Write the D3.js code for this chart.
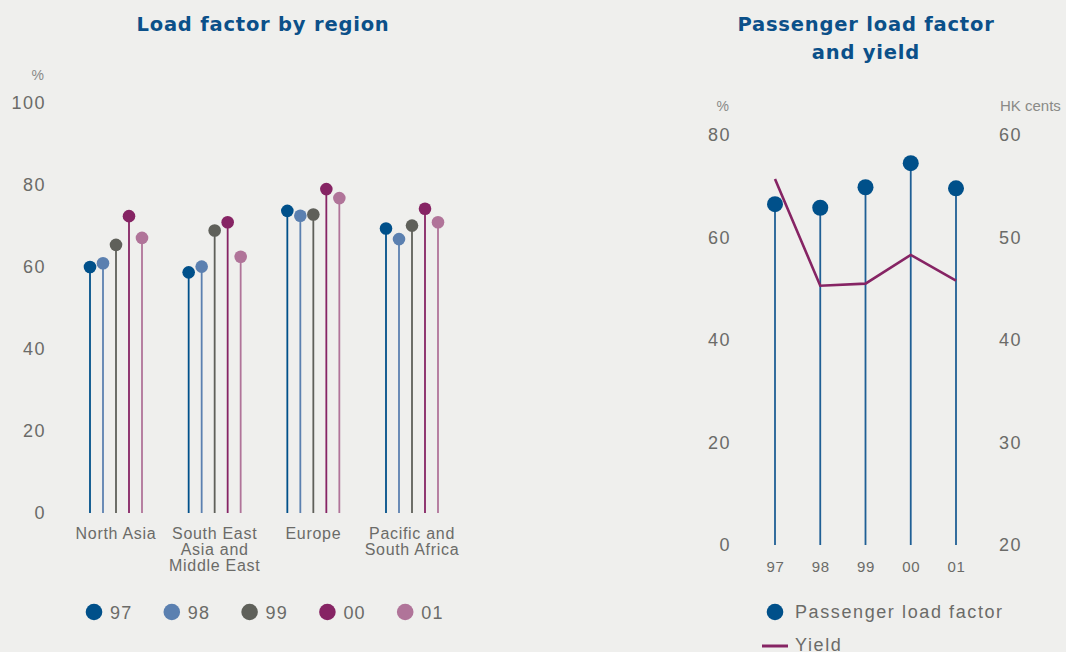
<!DOCTYPE html>
<html>
<head>
<meta charset="utf-8">
<script src="https://cdn.jsdelivr.net/npm/d3@7"></script>
<style>
  body { margin: 0; background: #efefed; }
  svg { display: block; font-family: "Liberation Sans", Arial, sans-serif; }
  .tick text { fill: #6b6b68; }
  .title { fill: #0b5089; font-family: "DejaVu Sans", sans-serif; font-weight: bold; font-size: 19.5px; letter-spacing: 0.8px; }
</style>
</head>
<body>
<div id="main"></div>
<script>
// data
const regions = ['North Asia', 'South East Asia and Middle East', 'Europe', 'Pacific and South Africa']
const regionLines = [['North Asia'], ['South East', 'Asia and', 'Middle East'], ['Europe'], ['Pacific and', 'South Africa']]
const years = ['97', '98', '99', '00', '01']
const yearColors = ['#00508a', '#5b80b0', '#5f605a', '#862464', '#b07499']
const loadByRegion = [
    [60.0, 60.9, 65.4, 72.4, 67.1],   // North Asia
    [58.7, 60.1, 68.9, 70.9, 62.5],   // SE Asia & Middle East
    [73.7, 72.5, 72.8, 79.0, 76.8],   // Europe
    [69.4, 66.8, 70.1, 74.2, 70.9]    // Pacific & South Africa
]
const leftTicks = [0, 20, 40, 60, 80, 100]

const paxLoad = [66.5, 65.8, 69.8, 74.5, 69.6]
const yieldCents = [55.7, 45.3, 45.5, 48.3, 45.8]
const pctTicks = [0, 20, 40, 60, 80]
const centTicks = [20, 30, 40, 50, 60]

const w = 1066, h = 652
const svg = d3.select('#main').append('svg').attr('width', w).attr('height', h)

const grey = '#6b6b68'

/// left chart: load factor by region ///
svg.append('text').attr('class', 'title')
    .attr('x', 263).attr('y', 31).attr('text-anchor', 'middle')
    .text('Load factor by region')

const yL = d3.scaleLinear().domain([0, 100]).range([513, 103])
const xGroup = d3.scalePoint().domain(regions).range([116, 412])
const xYear = d3.scalePoint().domain(years).range([-26, 26])

svg.append('text').attr('x', 44).attr('y', 80).attr('text-anchor', 'end')
    .attr('font-size', 14).attr('fill', '#8a8a87').text('%')

const axL = svg.append('g').attr('transform', 'translate(46,0)')
    .call(d3.axisLeft(yL).tickValues(leftTicks).tickSize(0).tickPadding(0))
axL.select('.domain').remove()
axL.selectAll('text').attr('font-size', 18).attr('letter-spacing', 1.5)
    .attr('font-family', '"Liberation Sans", Arial, sans-serif')

const groups = svg.selectAll('.region')
    .data(regions)
    .enter()
    .append('g')
    .attr('class', 'region')
    .attr('transform', d => 'translate(' + xGroup(d) + ',0)')

groups.each(function (r, gi) {
    const g = d3.select(this)
    const vals = loadByRegion[gi].map((v, i) => ({ year: years[i], v: v, c: yearColors[i] }))
    g.selectAll('line').data(vals).enter().append('line')
        .attr('x1', d => xYear(d.year)).attr('x2', d => xYear(d.year))
        .attr('y1', yL(0)).attr('y2', d => yL(d.v))
        .attr('stroke', d => d.c).attr('stroke-width', 1.8)
    g.selectAll('circle').data(vals).enter().append('circle')
        .attr('cx', d => xYear(d.year)).attr('cy', d => yL(d.v))
        .attr('r', 6.3).attr('fill', d => d.c)
    g.append('text').attr('text-anchor', 'middle').attr('font-size', 16)
        .attr('fill', grey).attr('letter-spacing', 0.7)
        .selectAll('tspan').data(regionLines[gi]).enter().append('tspan')
        .attr('x', 0).attr('y', (d, i) => 539 + i * 16).text(d => d)
})

// legend
const legL = svg.selectAll('.legL').data(years).enter().append('g')
    .attr('transform', (d, i) => 'translate(' + (94 + i * 77.8) + ',612)')
legL.append('circle').attr('r', 8.3).attr('fill', (d, i) => yearColors[i])
legL.append('text').attr('x', 16).attr('y', 6.5).attr('font-size', 18)
    .attr('fill', grey).attr('letter-spacing', 1.2).text(d => d)

/// right chart: passenger load factor and yield ///
const tR = svg.append('text').attr('class', 'title').attr('text-anchor', 'middle')
tR.append('tspan').attr('x', 866).attr('y', 31).attr('x', 866).text('Passenger load factor')
tR.append('tspan').attr('x', 866).attr('y', 59).text('and yield')

const yP = d3.scaleLinear().domain([0, 80]).range([545, 135])
const yY = d3.scaleLinear().domain([20, 60]).range([545, 135])
const xR = d3.scalePoint().domain(years).range([775, 956])

svg.append('text').attr('x', 729).attr('y', 111).attr('text-anchor', 'end')
    .attr('font-size', 14).attr('fill', '#8a8a87').text('%')
svg.append('text').attr('x', 1000).attr('y', 111)
    .attr('font-size', 15).attr('fill', '#8a8a87').text('HK cents')

const axP = svg.append('g').attr('transform', 'translate(731,0)')
    .call(d3.axisLeft(yP).tickValues(pctTicks).tickSize(0).tickPadding(0))
axP.select('.domain').remove()
axP.selectAll('text').attr('font-size', 18).attr('letter-spacing', 1.5)
    .attr('font-family', '"Liberation Sans", Arial, sans-serif')

const axY = svg.append('g').attr('transform', 'translate(999,0)')
    .call(d3.axisRight(yY).tickValues(centTicks).tickSize(0).tickPadding(0))
axY.select('.domain').remove()
axY.selectAll('text').attr('font-size', 18).attr('letter-spacing', 1.5)
    .attr('font-family', '"Liberation Sans", Arial, sans-serif')

const axX = svg.append('g').attr('transform', 'translate(0,561)')
    .call(d3.axisBottom(xR).tickSize(0).tickPadding(0))
axX.select('.domain').remove()
axX.selectAll('text').attr('font-size', 15).attr('letter-spacing', 0.7)
    .attr('font-family', '"Liberation Sans", Arial, sans-serif')

const pax = years.map((y, i) => ({ year: y, v: paxLoad[i] }))
svg.selectAll('.paxStem').data(pax).enter().append('line')
    .attr('x1', d => xR(d.year)).attr('x2', d => xR(d.year))
    .attr('y1', yP(0)).attr('y2', d => yP(d.v))
    .attr('stroke', '#1f5f95').attr('stroke-width', 1.8)

const line = d3.line().x((d, i) => xR(years[i])).y(d => yY(d))
svg.append('path').datum(yieldCents).attr('d', line)
    .attr('fill', 'none').attr('stroke', '#862464').attr('stroke-width', 2.6)

svg.selectAll('.paxDot').data(pax).enter().append('circle')
    .attr('cx', d => xR(d.year)).attr('cy', d => yP(d.v))
    .attr('r', 8).attr('fill', '#00508a')

// legend
svg.append('circle').attr('cx', 775).attr('cy', 612).attr('r', 8.3).attr('fill', '#00508a')
svg.append('text').attr('x', 795).attr('y', 618).attr('font-size', 18)
    .attr('fill', grey).attr('letter-spacing', 1.6).text('Passenger load factor')
svg.append('line').attr('x1', 762).attr('x2', 788).attr('y1', 646).attr('y2', 646)
    .attr('stroke', '#862464').attr('stroke-width', 3)
svg.append('text').attr('x', 795).attr('y', 651).attr('font-size', 18)
    .attr('fill', grey).attr('letter-spacing', 1.6).text('Yield')
</script>
</body>
</html>
